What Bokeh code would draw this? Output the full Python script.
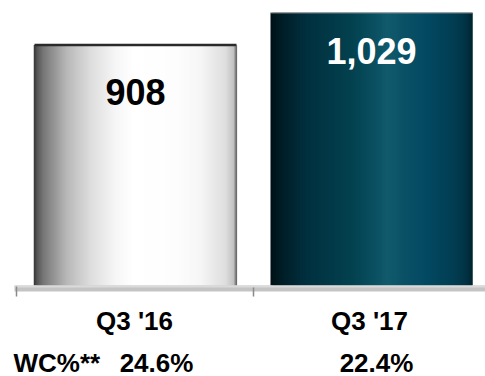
from bokeh.plotting import figure
from bokeh.models import Range1d, ColumnDataSource
from bokeh.core.properties import value
from bokeh.embed import file_html
from bokeh.resources import INLINE

# ---- data ----
categories = ["Q3 '16", "Q3 '17"]
amounts = [908, 1029]
amount_labels = ["908", "1,029"]
wc_title = "WC%**"
wc_values = ["24.6%", "22.4%"]

FONT = "Liberation Sans"

# ---- gradient styles ----
def hex2rgb(h):
    h = h.lstrip("#")
    return tuple(int(h[i:i + 2], 16) for i in (0, 2, 4))

def interp(stops, t):
    for (t0, c0), (t1, c1) in zip(stops[:-1], stops[1:]):
        if t0 <= t <= t1:
            f = 0 if t1 == t0 else (t - t0) / (t1 - t0)
            a, b = hex2rgb(c0), hex2rgb(c1)
            return "#%02x%02x%02x" % tuple(int(round(a[i] + (b[i] - a[i]) * f)) for i in range(3))
    return stops[-1][1]

silver = [(0.0, "#404040"), (0.02, "#5e5e5e"), (0.045, "#777777"), (0.16, "#b8b8b8"),
          (0.28, "#dedede"), (0.40, "#f6f6f6"), (0.49, "#ffffff"), (0.70, "#fdfdfd"),
          (0.82, "#f6f6f6"), (0.945, "#dedede"), (0.985, "#c2c2c2"), (1.0, "#6a6a6a")]
teal = [(0.0, "#001015"), (0.05, "#001c25"), (0.18, "#01303f"), (0.40, "#03414f"),
        (0.52, "#0a5062"), (0.58, "#115a6c"), (0.66, "#0a5166"), (0.76, "#034a63"),
        (0.90, "#023e53"), (0.97, "#023244"), (1.0, "#01222c")]
gradients = [silver, teal]
label_colors = ["#000000", "#ffffff"]
label_offsets = [34, 25]

px = 1 / 236.0          # x data units per pixel
ypx = 3.774             # y data units per pixel
bar_w = 202 * px

p = figure(width=485, height=376, output_backend="svg", toolbar_location=None,
           x_range=Range1d(-0.5 - 17 * px, -0.5 + 468 * px),
           y_range=Range1d(-91 * ypx, 285 * ypx),
           x_axis_location=None, y_axis_location=None,
           min_border=0, outline_line_color=None)
p.xgrid.visible = False
p.ygrid.visible = False
p.background_fill_color = "white"
p.border_fill_color = "white"

# ---- bars as gradient strips (overlapping to avoid seams) ----
N = 101
left, right, top, colors = [], [], [], []
for i, (v, grad) in enumerate(zip(amounts, gradients)):
    x0 = i - bar_w / 2
    step = bar_w / N
    for k in range(N):
        left.append(x0 + k * step)
        right.append(min(x0 + (k + 2.2) * step, x0 + bar_w))
        top.append(v)
        colors.append(interp(grad, (k + 0.5) / N))
p.quad(left=left, right=right, bottom=0, top=top, fill_color=colors, line_color=None)

# bar borders
p.segment(x0=[0 - bar_w / 2], y0=[amounts[0]], x1=[0 + bar_w / 2], y1=[amounts[0]],
          line_color="#2a2a2a", line_width=2.5)
p.segment(x0=[0 - bar_w / 2], y0=[0], x1=[0 - bar_w / 2], y1=[amounts[0]],
          line_color="#3a3a3a", line_width=1.5)
p.segment(x0=[0 + bar_w / 2], y0=[0], x1=[0 + bar_w / 2], y1=[amounts[0]],
          line_color="#6a6a6a", line_width=1.2)
p.segment(x0=[1 - bar_w / 2], y0=[amounts[1]], x1=[1 + bar_w / 2], y1=[amounts[1]],
          line_color="#a0a0a0", line_width=1)

# ---- base axis band ----
p.quad(left=[-0.5 - 3 * px], right=[1.6], bottom=[-6 * ypx], top=[0],
       fill_color="#c4c4c4", line_color=None)
p.segment(x0=[-0.5 - 3 * px], y0=[-1 * ypx], x1=[1.6], y1=[-1 * ypx],
          line_color="#dadada", line_width=2)
p.segment(x0=[-0.5 - 1 * px, 0.5], y0=[-1 * ypx, -2 * ypx],
          x1=[-0.5 - 1 * px, 0.5], y1=[-11 * ypx, -11 * ypx],
          line_color="#8a8a8a", line_width=1.5)

# ---- value labels ----
src = ColumnDataSource(dict(x=[0, 1], y=amounts, t=amount_labels, c=label_colors,
                            off=label_offsets))
p.text(x="x", y="y", text="t", text_color="c", y_offset="off",
       text_align="center", text_baseline="top",
       text_font=value(FONT), text_font_style="bold", text_font_size="36px", source=src)

# ---- category labels ----
p.text(x=[0, 1], y=[-35 * ypx, -35 * ypx], text=categories, x_offset=[-1, -2],
       text_align="center", text_baseline="middle", text_color="#000000",
       text_font=value(FONT), text_font_style="bold", text_font_size="26px")

# ---- WC% row ----
p.text(x=[-0.5], y=[-77 * ypx], text=[wc_title], x_offset=[-4],
       text_align="left", text_baseline="middle", text_color="#000000",
       text_font=value(FONT), text_font_style="bold", text_font_size="26px")
p.text(x=[0, 1], y=[-77 * ypx, -77 * ypx], text=wc_values, x_offset=[21, 5],
       text_align="center", text_baseline="middle", text_color="#000000",
       text_font=value(FONT), text_font_style="bold", text_font_size="26px")

open("out.html", "w").write(file_html(p, INLINE))
